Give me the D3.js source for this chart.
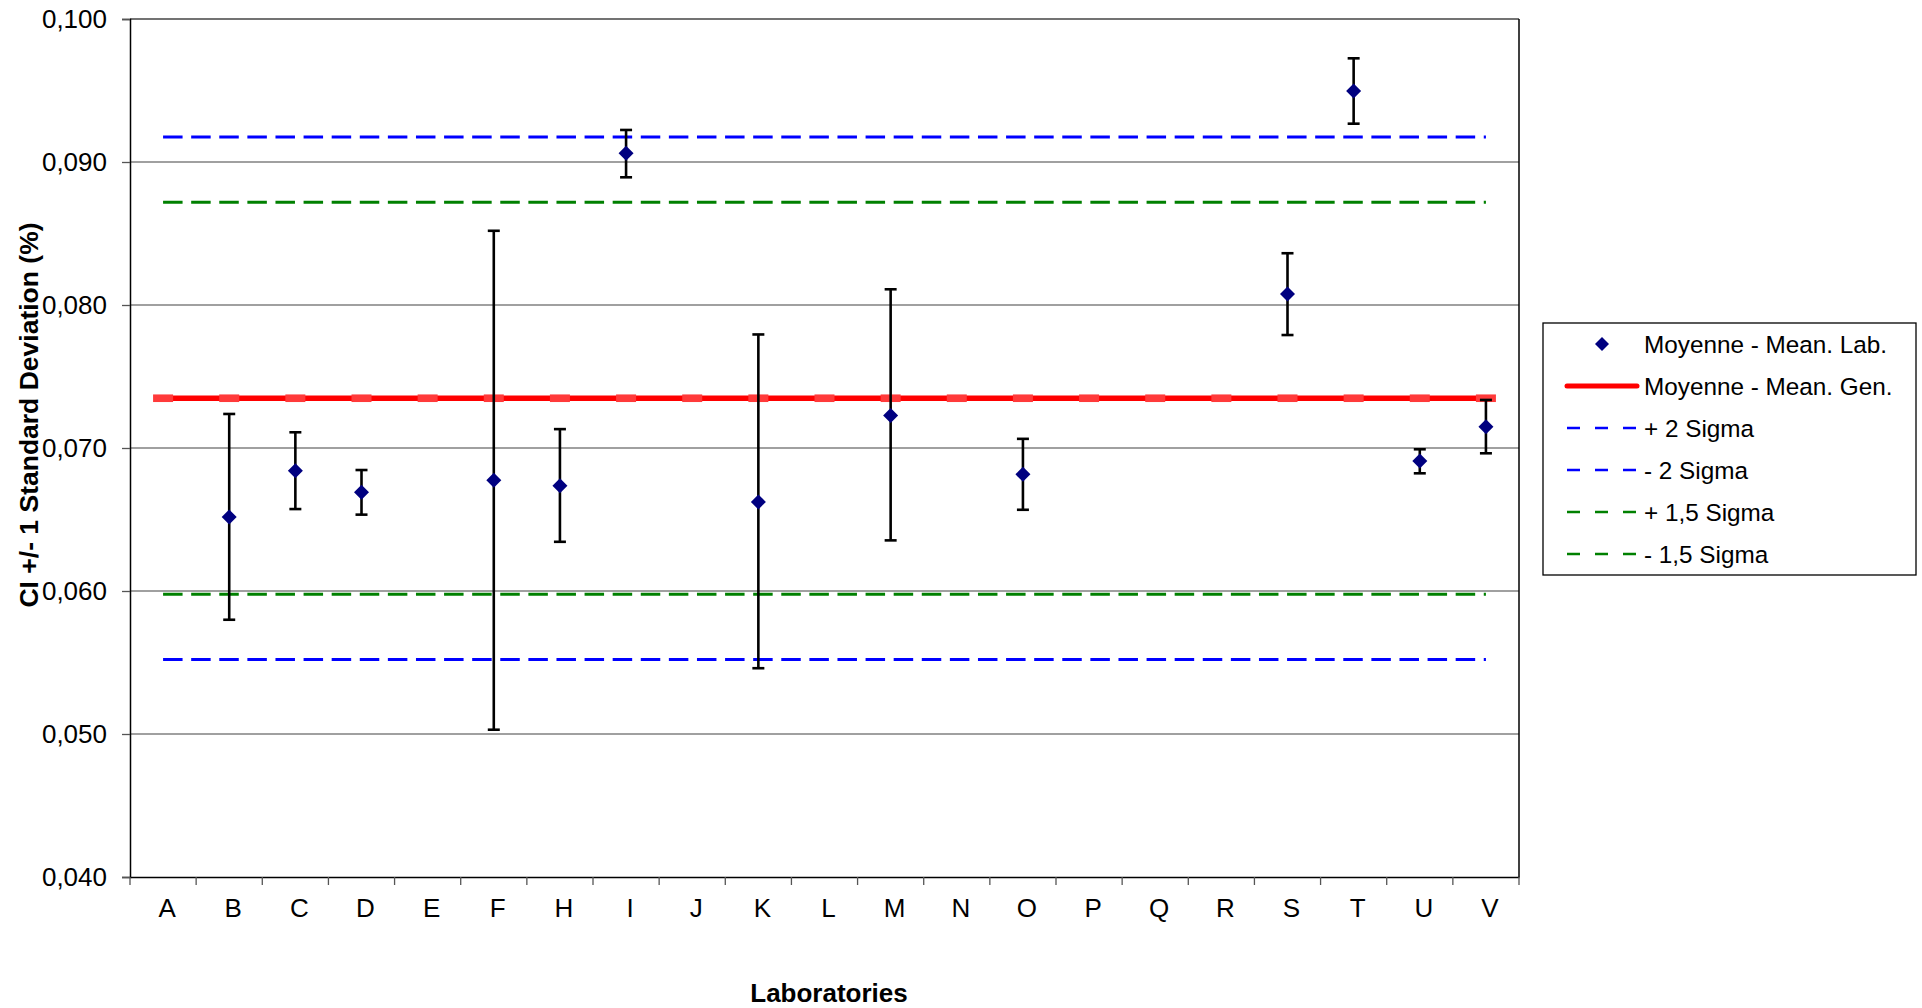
<!DOCTYPE html>
<html>
<head>
<meta charset="utf-8">
<script src="https://cdn.jsdelivr.net/npm/d3@7"></script>
<style>
  html, body { margin: 0; padding: 0; background: #fff; }
  svg { display: block; font-family: "Liberation Sans", Arial, sans-serif; }
</style>
</head>
<body>
<svg id="chart" width="1922" height="1008"></svg>
<script>
// ---- data ----
const categories = ["A","B","C","D","E","F","H","I","J","K","L","M","N","O","P","Q","R","S","T","U","V"];
const labMean  = [null,0.06517,0.06841,0.06690,null,0.06774,0.06736,0.09061,null,0.06623,null,0.07227,null,0.06816,null,null,null,0.08077,0.09497,0.06909,0.07149];
const labUpper = [null,0.07238,0.07110,0.06846,null,0.08519,0.07132,0.09224,null,0.07794,null,0.08110,null,0.07064,null,null,null,0.08362,0.09725,0.06991,0.07336];
const labLower = [null,0.05799,0.06573,0.06534,null,0.05030,0.06344,0.08893,null,0.05460,null,0.06354,null,0.06568,null,null,null,0.07790,0.09268,0.06823,0.06963];
const meanGen   = 0.07348;
const plus2Sig  = 0.09175;
const minus2Sig = 0.05521;
const plus15Sig = 0.08718;
const minus15Sig= 0.05978;
const yTicks = [0.040,0.050,0.060,0.070,0.080,0.090,0.100];
const legendLabels = ["Moyenne - Mean. Lab.","Moyenne - Mean. Gen.","+ 2 Sigma","- 2 Sigma","+ 1,5 Sigma","- 1,5 Sigma"];

// ---- layout ----
const svg = d3.select("#chart");
const L = 130, R = 1519, T = 19, B = 877;
const x = d3.scaleBand().domain(categories).range([L, R]).padding(0);
const y = d3.scaleLinear().domain([0.040, 0.100]).range([B, T]);
const cx = c => x(c) + x.bandwidth() / 2;
const locale = d3.formatLocale({decimal: ",", thousands: " ", grouping: [3], currency: ["", ""]});
const fmt = locale.format(".3f");

// gridlines
svg.append("g").selectAll("line").data(yTicks.filter(v => v > 0.040 && v < 0.100)).join("line")
  .attr("x1", L).attr("x2", R).attr("y1", d => y(d)).attr("y2", d => y(d))
  .attr("stroke", "#808080").attr("stroke-width", 1.3);

// plot border (top & right)
svg.append("line").attr("x1", L).attr("x2", R).attr("y1", T).attr("y2", T).attr("stroke", "#444").attr("stroke-width", 1.5);
svg.append("line").attr("x1", R).attr("x2", R).attr("y1", T).attr("y2", B).attr("stroke", "#000").attr("stroke-width", 1.5);

// y axis
const yAxis = svg.append("g").attr("transform", `translate(${L},0)`)
  .call(d3.axisLeft(y).tickValues(yTicks).tickFormat(fmt).tickSize(8).tickPadding(15));
yAxis.select(".domain").attr("stroke", "#000").attr("stroke-width", 1.5);
yAxis.selectAll(".tick line").attr("stroke", "#555").attr("stroke-width", 1.3);
yAxis.selectAll("text").attr("font-size", 26).attr("fill", "#000").attr("font-family", "Liberation Sans, Arial, sans-serif");

// x axis
const xAxis = svg.append("g").attr("transform", `translate(0,${B})`)
  .call(d3.axisBottom(x).tickSize(0).tickPadding(22));
xAxis.select(".domain").attr("stroke", "#000").attr("stroke-width", 1.5);
xAxis.selectAll("text").attr("font-size", 26).attr("fill", "#000").attr("dx", 4).attr("font-family", "Liberation Sans, Arial, sans-serif");
svg.append("g").selectAll("line").data(categories.map(c => x(c)).concat([R])).join("line")
  .attr("x1", d => d).attr("x2", d => d).attr("y1", B).attr("y2", B + 8)
  .attr("stroke", "#555").attr("stroke-width", 1.3);

// axis titles
svg.append("text").attr("transform", `translate(38,415) rotate(-90)`)
  .attr("text-anchor", "middle").attr("font-size", 26.5).attr("font-weight", "bold").text("CI +/- 1 Standard Deviation (%)");
svg.append("text").attr("x", 829).attr("y", 1002)
  .attr("text-anchor", "middle").attr("font-size", 26).attr("font-weight", "bold").text("Laboratories");

// reference dashed lines
const lineGen = d3.line().x(d => cx(d.c)).y(d => y(d.v));
const refs = [
  {v: plus2Sig, color: "#0000ff"},
  {v: minus2Sig, color: "#0000ff"},
  {v: plus15Sig, color: "#008000"},
  {v: minus15Sig, color: "#008000"}
];
refs.forEach(r => {
  svg.append("path").datum(categories.map(c => ({c, v: r.v})))
    .attr("d", lineGen).attr("fill", "none").attr("stroke", r.color)
    .attr("stroke-width", 3).attr("stroke-dasharray", "19.5,8.6");
});

// general mean line with markers
svg.append("path").datum(categories.map(c => ({c, v: meanGen})))
  .attr("d", lineGen).attr("fill", "none").attr("stroke", "#ff0000").attr("stroke-width", 5.5);
svg.append("g").selectAll("rect").data(categories).join("rect")
  .attr("x", d => cx(d) - 10).attr("y", y(meanGen) - 3.8).attr("width", 20).attr("height", 7.6)
  .attr("fill", "#ff3a3a");

// error bars
const labs = categories.map((c, i) => ({c, m: labMean[i], hi: labUpper[i], lo: labLower[i]})).filter(d => d.m !== null);
const eb = svg.append("g").attr("stroke", "#000").attr("stroke-width", 2.6);
eb.selectAll("line.v").data(labs).join("line").attr("class", "v")
  .attr("x1", d => cx(d.c)).attr("x2", d => cx(d.c)).attr("y1", d => y(d.hi)).attr("y2", d => y(d.lo));
eb.selectAll("line.t").data(labs).join("line").attr("class", "t")
  .attr("x1", d => cx(d.c) - 6).attr("x2", d => cx(d.c) + 6).attr("y1", d => y(d.hi)).attr("y2", d => y(d.hi));
eb.selectAll("line.b").data(labs).join("line").attr("class", "b")
  .attr("x1", d => cx(d.c) - 6).attr("x2", d => cx(d.c) + 6).attr("y1", d => y(d.lo)).attr("y2", d => y(d.lo));

// diamonds
const diamond = s => `M0,${-s}L${s},0L0,${s}L${-s},0Z`;
svg.append("g").selectAll("path").data(labs).join("path")
  .attr("transform", d => `translate(${cx(d.c)},${y(d.m)})`)
  .attr("d", diamond(7.5)).attr("fill", "#000080");

// legend
const lg = svg.append("g");
lg.append("rect").attr("x", 1543).attr("y", 323).attr("width", 373).attr("height", 252)
  .attr("fill", "#fff").attr("stroke", "#000").attr("stroke-width", 1.3);
const rowY = i => 344 + i * 42;
const legStyles = [
  {type: "marker"},
  {type: "line", color: "#ff0000", dash: null, w: 5},
  {type: "line", color: "#0000ff", dash: "13,15", w: 2.5},
  {type: "line", color: "#0000ff", dash: "13,15", w: 2.5},
  {type: "line", color: "#008000", dash: "13,15", w: 2.5},
  {type: "line", color: "#008000", dash: "13,15", w: 2.5}
];
legendLabels.forEach((lab, i) => {
  const s = legStyles[i];
  if (s.type === "marker") {
    lg.append("path").attr("transform", `translate(1602,${rowY(i)})`).attr("d", diamond(7)).attr("fill", "#000080");
  } else {
    const ln = lg.append("line").attr("x1", 1567).attr("x2", 1637).attr("y1", rowY(i)).attr("y2", rowY(i))
      .attr("stroke", s.color).attr("stroke-width", s.w);
    if (s.dash) ln.attr("stroke-dasharray", s.dash);
    else ln.attr("stroke-linecap", "round");
  }
  lg.append("text").attr("x", 1644).attr("y", rowY(i)).attr("dy", "0.35em")
    .attr("font-size", 24.3).attr("fill", "#000").text(lab);
});
</script>
</body>
</html>
